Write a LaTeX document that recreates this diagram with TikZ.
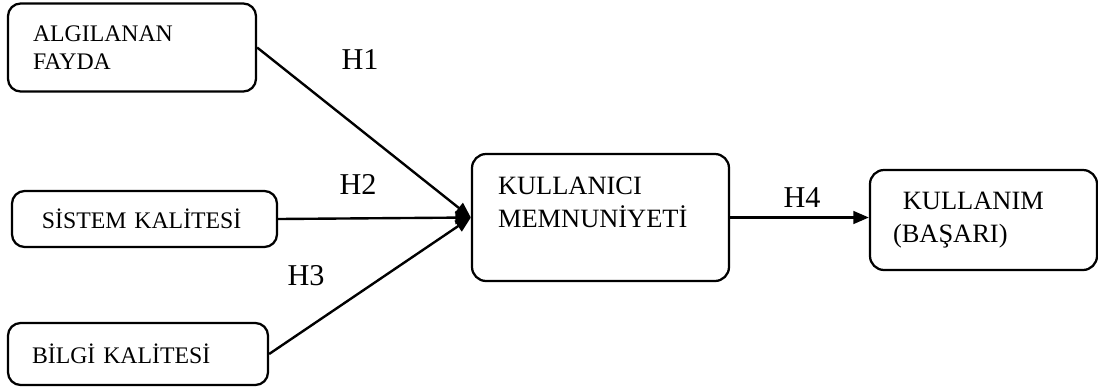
\documentclass[tikz,border=0pt]{standalone}
\usepackage{fontspec}
\setmainfont{Liberation Serif}
\usetikzlibrary{arrows.meta,positioning}

\newcommand{\px}{0.025cm}

\begin{document}
\begin{tikzpicture}[x=\px,y=-\px]

% =========================
% Styles
% =========================
\tikzset{
    factorbox/.style={
        draw,
        line width=1.6pt,
        rounded corners=9pt,
        align=left,
        font=\fontsize{16.9}{19.9}\selectfont
    },
    bigbox/.style={
        factorbox,
        rounded corners=10pt,
        font=\fontsize{18.8}{23.1}\selectfont
    },
    hlabel/.style={
        inner sep=0pt,
        font=\fontsize{21.5}{24}\selectfont
    },
    arr/.style={
        line width=1.7pt,
        -{Triangle[length=11pt,width=9pt]}
    }
}

% Page frame (keeps the margins of the reference)
\useasboundingbox (0,0) rectangle (1098,390);

% =========================
% Factor boxes (left)
% =========================
\node[factorbox, minimum width=248*\px, minimum height=88*\px,
      text width=198*\px, inner xsep=25*\px] (fayda) at (132,47.5)
    {ALGILANAN\\FAYDA};

\node[factorbox, minimum width=265*\px, minimum height=56*\px,
      text width=205*\px, inner xsep=30*\px] (sistem) at (144.5,219)
    {SİSTEM KALİTESİ};

\node[factorbox, minimum width=260*\px, minimum height=62*\px,
      text width=212*\px, inner xsep=24*\px] (bilgi) at (138,354)
    {BİLGİ KALİTESİ};

% =========================
% Satisfaction & use
% =========================
\node[bigbox, minimum width=257*\px, minimum height=127*\px,
      text width=205*\px, inner xsep=26*\px, text depth=63*\px] (memnun) at (600.5,217.5)
    {KULLANICI\\MEMNUNİYETİ};

\node[bigbox, minimum width=227*\px, minimum height=100*\px,
      text width=181*\px, inner xsep=23*\px] (kullanim) at (983.5,220)
    {\hspace*{7pt}KULLANIM\\(BAŞARI)};

% =========================
% Hypothesis paths
% =========================
\draw[arr] (fayda.east) -- (memnun.west);
\draw[arr] (sistem.east) -- (memnun.west);
\draw[arr] (bilgi.east) -- (memnun.west);
\draw[arr] (memnun.east) -- (memnun.east -| kullanim.west);

\node[hlabel] (h1) at (360,60) {H1};
\node[hlabel] (h2) at (358,184) {H2};
\node[hlabel] (h3) at (306,276) {H3};
\node[hlabel] (h4) at (802,198) {H4};

\end{tikzpicture}
\end{document}
